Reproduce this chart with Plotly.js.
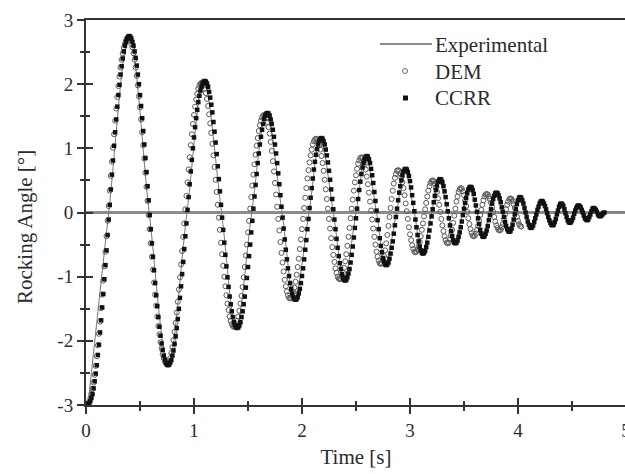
<!DOCTYPE html>
<html><head><meta charset="utf-8">
<script src="https://cdn.plot.ly/plotly-3.0.1.min.js"></script>
<style>html,body{margin:0;padding:0;overflow:hidden;background:#fff}#chart{width:640px;height:474px}</style>
</head><body><div id="chart"></div>
<script>
// ---- data (rocking angle in degrees) ----
const seriesNames = ['Experimental', 'DEM', 'CCRR'];

// CCRR: sampled every 0.01 s starting at 0.02 s
const ccrrStart = 0.02, ccrrStep = 0.01;
const ccrrAngle = [
 -2.98,-2.97,-2.94,-2.89,-2.83,-2.74,-2.63,-2.51,-2.38,-2.22,-2.06,-1.87,-1.68,-1.48,-1.27,-1.04,-0.82,-0.59,-0.35,-0.11,
 0.12,0.36,0.59,0.81,1.04,1.25,1.45,1.65,1.83,1.99,2.15,2.28,2.40,2.51,2.60,2.66,2.71,2.74,2.75,2.74,
 2.71,2.66,2.60,2.51,2.41,2.29,2.15,2.00,1.83,1.66,1.47,1.27,1.06,0.85,0.63,0.41,0.19,-0.04,-0.26,-0.48,
 -0.69,-0.90,-1.10,-1.29,-1.46,-1.63,-1.78,-1.92,-2.04,-2.14,-2.23,-2.29,-2.34,-2.37,-2.38,-2.37,-2.34,-2.30,-2.23,-2.15,
 -2.05,-1.93,-1.80,-1.66,-1.50,-1.33,-1.15,-0.96,-0.77,-0.57,-0.37,-0.17,0.04,0.24,0.44,0.64,0.82,1.00,1.17,1.33,
 1.47,1.60,1.72,1.82,1.90,1.96,2.01,2.04,2.05,2.04,2.01,1.96,1.88,1.79,1.68,1.56,1.41,1.26,1.09,0.91,
 0.72,0.52,0.33,0.12,-0.08,-0.27,-0.47,-0.66,-0.84,-1.01,-1.16,-1.31,-1.43,-1.54,-1.63,-1.71,-1.76,-1.79,-1.80,-1.79,
 -1.76,-1.71,-1.63,-1.54,-1.43,-1.31,-1.17,-1.02,-0.85,-0.68,-0.50,-0.31,-0.13,0.06,0.25,0.43,0.60,0.77,0.92,1.06,
 1.18,1.29,1.38,1.46,1.51,1.54,1.55,1.54,1.51,1.45,1.38,1.29,1.18,1.06,0.92,0.77,0.61,0.44,0.27,0.09,
 -0.08,-0.25,-0.42,-0.58,-0.73,-0.87,-0.99,-1.10,-1.19,-1.26,-1.32,-1.35,-1.36,-1.35,-1.32,-1.26,-1.19,-1.10,-0.99,-0.87,
 -0.73,-0.58,-0.43,-0.26,-0.10,0.07,0.23,0.38,0.53,0.67,0.79,0.90,0.99,1.06,1.12,1.15,1.16,1.15,1.11,1.06,
 0.98,0.89,0.78,0.65,0.51,0.36,0.21,0.05,-0.11,-0.26,-0.41,-0.55,-0.68,-0.79,-0.88,-0.96,-1.02,-1.05,-1.06,-1.05,
 -1.01,-0.95,-0.88,-0.78,-0.66,-0.53,-0.39,-0.24,-0.09,0.06,0.21,0.35,0.48,0.60,0.70,0.77,0.83,0.87,0.88,0.87,
 0.83,0.77,0.68,0.58,0.46,0.32,0.18,0.03,-0.12,-0.26,-0.40,-0.52,-0.62,-0.71,-0.77,-0.81,-0.82,-0.81,-0.78,-0.72,
 -0.64,-0.55,-0.45,-0.33,-0.20,-0.07,0.06,0.19,0.31,0.41,0.50,0.58,0.64,0.67,0.68,0.67,0.63,0.57,0.49,0.39,
 0.27,0.15,0.02,-0.11,-0.23,-0.35,-0.45,-0.53,-0.59,-0.63,-0.64,-0.63,-0.60,-0.54,-0.47,-0.38,-0.28,-0.17,-0.06,0.05,
 0.16,0.26,0.35,0.42,0.48,0.51,0.52,0.51,0.47,0.41,0.33,0.24,0.13,0.02,-0.09,-0.20,-0.29,-0.37,-0.43,-0.47,
 -0.48,-0.47,-0.44,-0.38,-0.31,-0.23,-0.14,-0.04,0.06,0.15,0.23,0.30,0.36,0.39,0.40,0.39,0.35,0.29,0.20,0.11,
 0.01,-0.09,-0.18,-0.27,-0.33,-0.37,-0.38,-0.37,-0.33,-0.28,-0.21,-0.12,-0.04,0.05,0.14,0.21,0.26,0.30,0.31,0.30,
 0.27,0.22,0.16,0.08,0.01,-0.07,-0.15,-0.21,-0.26,-0.29,-0.30,-0.29,-0.25,-0.19,-0.11,-0.03,0.05,0.13,0.19,0.23,
 0.24,0.23,0.19,0.14,0.07,0.00,-0.07,-0.14,-0.19,-0.23,-0.24,-0.23,-0.20,-0.15,-0.09,-0.03,0.04,0.09,0.14,0.17,
 0.18,0.17,0.14,0.10,0.05,-0.01,-0.07,-0.12,-0.16,-0.19,-0.20,-0.19,-0.15,-0.10,-0.03,0.03,0.09,0.13,0.14,0.13,
 0.10,0.05,-0.01,-0.07,-0.12,-0.15,-0.16,-0.15,-0.12,-0.08,-0.02,0.03,0.07,0.10,0.11,0.10,0.08,0.04,0.00,-0.05,
 -0.09,-0.11,-0.12,-0.11,-0.07,-0.03,0.02,0.06,0.07,0.06,0.04,0.01,-0.03,-0.05,-0.06,-0.05,-0.03,-0.01,0.00
];

// DEM: sampled every 0.01 s starting at 0.01 s
const demStart = 0.01, demStep = 0.01;
const demAngle = [
 -2.99,-2.98,-2.95,-2.90,-2.83,-2.75,-2.65,-2.53,-2.39,-2.24,-2.07,-1.89,-1.70,-1.49,-1.28,-1.06,-0.84,-0.61,-0.37,-0.13,
 0.10,0.34,0.57,0.79,1.01,1.22,1.43,1.62,1.80,1.97,2.12,2.26,2.38,2.48,2.57,2.63,2.68,2.71,2.72,2.71,
 2.68,2.63,2.57,2.48,2.38,2.26,2.13,1.98,1.81,1.64,1.45,1.25,1.05,0.84,0.62,0.40,0.18,-0.04,-0.26,-0.48,
 -0.69,-0.89,-1.09,-1.28,-1.45,-1.62,-1.77,-1.90,-2.02,-2.12,-2.21,-2.27,-2.32,-2.35,-2.36,-2.35,-2.32,-2.27,-2.19,-2.10,
 -1.99,-1.86,-1.72,-1.56,-1.39,-1.20,-1.01,-0.81,-0.60,-0.38,-0.17,0.05,0.26,0.47,0.67,0.86,1.05,1.22,1.38,1.52,
 1.65,1.76,1.85,1.93,1.98,2.01,2.02,2.01,1.98,1.93,1.86,1.77,1.66,1.53,1.39,1.24,1.07,0.89,0.71,0.51,
 0.32,0.12,-0.08,-0.27,-0.47,-0.65,-0.83,-1.00,-1.15,-1.29,-1.42,-1.52,-1.62,-1.69,-1.74,-1.77,-1.78,-1.77,-1.74,-1.69,
 -1.62,-1.53,-1.42,-1.30,-1.16,-1.01,-0.85,-0.67,-0.50,-0.31,-0.13,0.06,0.24,0.42,0.59,0.75,0.90,1.04,1.16,1.27,
 1.36,1.43,1.48,1.51,1.52,1.51,1.47,1.41,1.33,1.23,1.10,0.96,0.80,0.64,0.46,0.28,0.09,-0.10,-0.28,-0.46,
 -0.63,-0.78,-0.92,-1.05,-1.15,-1.23,-1.29,-1.33,-1.34,-1.33,-1.30,-1.24,-1.17,-1.08,-0.97,-0.85,-0.72,-0.57,-0.42,-0.26,
 -0.10,0.07,0.23,0.38,0.53,0.66,0.78,0.89,0.98,1.06,1.11,1.14,1.15,1.14,1.11,1.05,0.98,0.88,0.77,0.65,
 0.51,0.36,0.21,0.06,-0.10,-0.25,-0.40,-0.54,-0.66,-0.77,-0.87,-0.94,-1.00,-1.03,-1.04,-1.03,-0.99,-0.94,-0.86,-0.76,
 -0.65,-0.52,-0.38,-0.24,-0.09,0.06,0.20,0.34,0.47,0.58,0.68,0.76,0.81,0.85,0.86,0.85,0.81,0.75,0.67,0.56,
 0.44,0.31,0.17,0.03,-0.11,-0.25,-0.38,-0.50,-0.61,-0.69,-0.75,-0.79,-0.80,-0.79,-0.74,-0.68,-0.59,-0.48,-0.35,-0.21,
 -0.07,0.07,0.21,0.34,0.45,0.54,0.60,0.65,0.66,0.65,0.61,0.55,0.47,0.38,0.27,0.14,0.02,-0.10,-0.23,-0.34,
 -0.43,-0.51,-0.57,-0.61,-0.62,-0.61,-0.58,-0.53,-0.46,-0.37,-0.27,-0.17,-0.06,0.05,0.15,0.25,0.34,0.41,0.46,0.49,
 0.50,0.49,0.45,0.39,0.32,0.22,0.12,0.01,-0.10,-0.20,-0.29,-0.37,-0.43,-0.47,-0.48,-0.47,-0.42,-0.35,-0.27,-0.16,
 -0.05,0.06,0.17,0.25,0.32,0.36,0.38,0.37,0.33,0.27,0.19,0.10,0.01,-0.09,-0.18,-0.26,-0.32,-0.36,-0.37,-0.36,
 -0.33,-0.27,-0.21,-0.13,-0.04,0.04,0.12,0.19,0.25,0.28,0.29,0.28,0.25,0.21,0.15,0.08,0.01,-0.07,-0.14,-0.20,
 -0.24,-0.27,-0.28,-0.27,-0.23,-0.18,-0.11,-0.03,0.05,0.12,0.17,0.21,0.22,0.21,0.18,0.13,0.07,0.00,-0.07,-0.13,
 -0.18,-0.21,-0.22
];

// Experimental: extrema and zero crossings
const expTime = [0.02,0.21,0.40,0.585,0.76,0.935,1.09,1.255,1.39,1.535,1.67,1.815,1.93,2.065,2.17,2.29,2.39,2.50,2.59,2.69,
 2.77,2.875,2.95,3.04,3.11,3.20,3.27,3.35,3.41,3.49,3.55,3.62,3.67,3.74,3.79,3.86,3.91,3.97,4.01,4.07,
 4.11,4.17,4.21,4.27,4.31,4.36,4.39,4.44,4.47,4.52,4.55,4.60,4.63,4.68,4.70,4.74,4.76,4.80,5.00];
const expAngle = [-2.98,0,2.75,0,-2.37,0,2.04,0,-1.79,0,1.54,0,-1.35,0,1.15,0,-1.05,0,0.87,0,
 -0.81,0,0.67,0,-0.63,0,0.51,0,-0.47,0,0.39,0,-0.37,0,0.30,0,-0.29,0,0.23,0,
 -0.23,0,0.17,0,-0.19,0,0.13,0,-0.15,0,0.10,0,-0.11,0,0.06,0,-0.05,0,0];

const xTickVals = [0,1,2,3,4,5];
const xTickText = ['0','1','2','3','4','5'];
const xMinorVals = [0.5,1.5,2.5,3.5,4.5];
const yTickVals = [-3,-2,-1,0,1,2,3];
const yTickText = ['-3','-2','-1','0','1','2','3'];
const yMinorVals = [-2.5,-1.5,-0.5,0.5,1.5,2.5];

// ---- layout helpers (pixel -> paper) ----
const L = 86, T = 20, W = 540, H = 385;
const px = x => (x - L) / W;
const py = y => (T + H - y) / H;

const FONT = '"Liberation Serif", "Times New Roman", Times, serif';
const TXT = '#2b2b2b';
const AX = '#333';

const traces = [
  {x: expTime, y: expAngle, name: seriesNames[0], type: 'scatter', mode: 'lines',
   line: {color: '#777', width: 1, shape: 'spline', smoothing: 1}, showlegend: false, hoverinfo: 'skip'},
  {x0: demStart, dx: demStep, y: demAngle, name: seriesNames[1], type: 'scatter', mode: 'markers',
   marker: {symbol: 'circle-open', size: 5, color: '#5a5a5a', line: {width: 1, color: '#5a5a5a'}}, showlegend: false},
  {x0: ccrrStart, dx: ccrrStep, y: ccrrAngle, name: seriesNames[2], type: 'scatter', mode: 'markers',
   marker: {symbol: 'square', size: 4.5, color: '#111'}, showlegend: false},
  {x: [null], y: [null], xaxis: 'x2', yaxis: 'y2', type: 'scatter', mode: 'markers', showlegend: false, hoverinfo: 'skip'}
];

const tickFont = {family: FONT, size: 19, color: TXT};

const layout = {
  width: 640, height: 474,
  margin: {l: L, r: 640 - L - W, t: T, b: 474 - T - H},
  paper_bgcolor: '#fff', plot_bgcolor: '#fff',
  font: {family: FONT, color: TXT},
  showlegend: false,
  xaxis: {
    range: [0, 5], tickmode: 'array', tickvals: xTickVals, ticktext: xTickText,
    ticks: 'outside', ticklen: 7, tickwidth: 2, tickcolor: AX,
    minor: {tickmode: 'array', tickvals: xMinorVals, ticks: 'outside', ticklen: 4, tickwidth: 2, tickcolor: AX, showgrid: false},
    showline: true, linecolor: AX, linewidth: 2, mirror: true,
    showgrid: false, zeroline: false, tickfont: tickFont,
    title: {text: 'Time [s]', font: {family: FONT, size: 21, color: TXT}, standoff: 10}
  },
  yaxis: {
    range: [-3, 3], tickmode: 'array', tickvals: yTickVals, ticktext: yTickText,
    ticks: 'outside', ticklen: 7, tickwidth: 2, tickcolor: AX,
    minor: {tickmode: 'array', tickvals: yMinorVals, ticks: 'outside', ticklen: 4, tickwidth: 2, tickcolor: AX, showgrid: false},
    showline: true, linecolor: AX, linewidth: 2, mirror: true,
    showgrid: false, zeroline: true, zerolinecolor: '#8c8c8c', zerolinewidth: 3,
    tickfont: tickFont
  },
  xaxis2: {
    overlaying: 'x', anchor: 'y', range: [0, 5], tickmode: 'array', tickvals: xTickVals,
    ticks: 'inside', ticklen: 7, tickwidth: 2, tickcolor: AX, showticklabels: false,
    minor: {tickmode: 'array', tickvals: xMinorVals, ticks: 'inside', ticklen: 4, tickwidth: 2, tickcolor: AX, showgrid: false},
    showline: false, showgrid: false, zeroline: false
  },
  yaxis2: {
    overlaying: 'y', anchor: 'x', side: 'left', range: [-3, 3], tickmode: 'array', tickvals: yTickVals,
    ticks: 'inside', ticklen: 7, tickwidth: 2, tickcolor: AX, showticklabels: false,
    minor: {tickmode: 'array', tickvals: yMinorVals, ticks: 'inside', ticklen: 4, tickwidth: 2, tickcolor: AX, showgrid: false},
    showline: false, showgrid: false, zeroline: false
  },
  annotations: [
    {text: 'Rocking Angle [°]', xref: 'paper', yref: 'paper', x: px(25), y: py(227), textangle: -90,
     xanchor: 'center', yanchor: 'middle', showarrow: false, font: {family: FONT, size: 21, color: TXT}},
    {text: seriesNames[0], xref: 'paper', yref: 'paper', x: px(433), y: py(45), xanchor: 'left', yanchor: 'middle',
     showarrow: false, font: {family: FONT, size: 21, color: TXT}},
    {text: seriesNames[1], xref: 'paper', yref: 'paper', x: px(433), y: py(72), xanchor: 'left', yanchor: 'middle',
     showarrow: false, font: {family: FONT, size: 21, color: TXT}},
    {text: seriesNames[2], xref: 'paper', yref: 'paper', x: px(433), y: py(98), xanchor: 'left', yanchor: 'middle',
     showarrow: false, font: {family: FONT, size: 21, color: TXT}}
  ],
  shapes: [
    {type: 'line', xref: 'paper', yref: 'paper', x0: px(380), x1: px(432), y0: py(44), y1: py(44),
     line: {color: '#666', width: 1.5}},
    {type: 'circle', xref: 'paper', yref: 'paper', x0: px(402.5), x1: px(407.5), y0: py(73.5), y1: py(68.5),
     line: {color: '#666', width: 1}, fillcolor: 'rgba(0,0,0,0)'},
    {type: 'rect', xref: 'paper', yref: 'paper', x0: px(403), x1: px(408), y0: py(100.5), y1: py(95.5),
     line: {width: 0}, fillcolor: '#111'}
  ]
};

Plotly.newPlot('chart', traces, layout, {displayModeBar: false, staticPlot: true});
</script>
</body></html>
